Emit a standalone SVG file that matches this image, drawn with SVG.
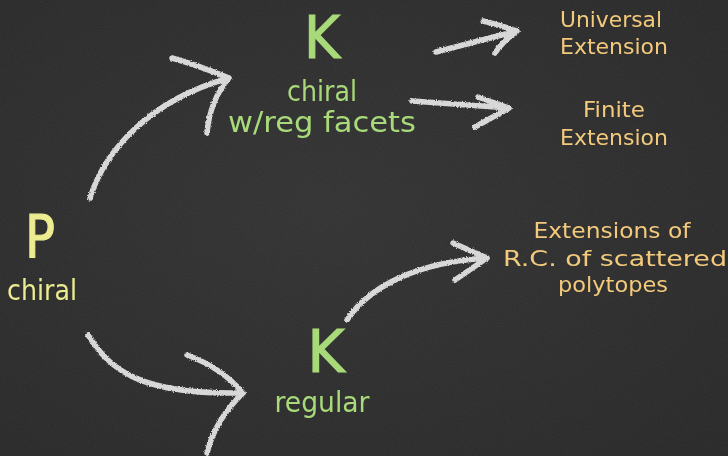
<svg xmlns="http://www.w3.org/2000/svg" width="728" height="456" viewBox="0 0 728 456">
<defs>
<filter id="bgnoise" x="0" y="0" width="100%" height="100%">
<feTurbulence type="fractalNoise" baseFrequency="0.9" numOctaves="2" seed="3" result="n"/>
<feColorMatrix in="n" type="matrix" values="0 0 0 0 1  0 0 0 0 1  0 0 0 0 1  0 0 0 0.06 0"/>
</filter>
<radialGradient id="bg" cx="0.45" cy="0.45" r="0.8">
<stop offset="0" stop-color="#313131"/>
<stop offset="1" stop-color="#262626"/>
</radialGradient>
<filter id="chalk" x="-10%" y="-10%" width="120%" height="120%">
<feTurbulence type="fractalNoise" baseFrequency="0.8" numOctaves="2" seed="7" result="t"/>
<feDisplacementMap in="SourceGraphic" in2="t" scale="3" xChannelSelector="R" yChannelSelector="G" result="d"/>
<feGaussianBlur in="d" stdDeviation="0.4"/>
</filter>
<style>
.arrow{fill:none;stroke:#e6e6e6;stroke-width:5.5;stroke-linecap:round;stroke-linejoin:round;opacity:0.92}
.t{font-family:"DejaVu Sans",sans-serif;text-anchor:middle}
.g{fill:#a8da7a}
.y{fill:#f3ca7c}
.p{fill:#ecec90}
.big{font-size:58px;stroke-width:1.2px}
.g.big{stroke:#a8da7a}
.p.big{stroke:#ecec90}
.mid{font-size:28px}
.sm{font-size:22px}
.xs{font-size:21px}
</style>
</defs>
<rect width="728" height="456" fill="url(#bg)"/>
<rect width="728" height="456" filter="url(#bgnoise)"/>
<g id="connectors" filter="url(#chalk)">
<path class="arrow" d="M90,198 C105,150 150,100 229,78 M172,58 Q200,66 229,78 M229,78 Q210,100 207,133"/>
<path class="arrow" d="M436,52 L517,31 M483,21 Q500,25 517,31 M517,31 Q503,41 495,53"/>
<path class="arrow" d="M412,101 L509,108 M478,97 L509,108 M509,108 L475,127"/>
<path class="arrow" d="M347,320 C370,285 420,262 487,258 M453,243 L487,258 M487,258 L455,280"/>
<path class="arrow" d="M88,335 C110,370 140,395 243,393 M187,355 Q222,368 243,393 M243,393 Q215,420 207,453"/>
</g>
<g id="nodeP">
<text class="t p big" x="40" y="257" textLength="30" lengthAdjust="spacingAndGlyphs">P</text>
<text class="t p mid" x="42" y="300" textLength="70" lengthAdjust="spacingAndGlyphs">chiral</text>
</g>
<g id="nodeKchiral">
<text class="t g big" x="322" y="58" textLength="36" lengthAdjust="spacingAndGlyphs">K</text>
<text class="t g mid" x="322" y="101" textLength="70" lengthAdjust="spacingAndGlyphs">chiral</text>
<text class="t g mid" x="322" y="132" textLength="188" lengthAdjust="spacingAndGlyphs">w/reg facets</text>
</g>
<g id="nodeUniversal">
<text class="t y sm" x="611" y="27" textLength="102" lengthAdjust="spacingAndGlyphs">Universal</text>
<text class="t y sm" x="614" y="54" textLength="108" lengthAdjust="spacingAndGlyphs">Extension</text>
</g>
<g id="nodeFinite">
<text class="t y sm" x="614" y="117" textLength="62" lengthAdjust="spacingAndGlyphs">Finite</text>
<text class="t y sm" x="614" y="145" textLength="108" lengthAdjust="spacingAndGlyphs">Extension</text>
</g>
<g id="nodeScattered">
<text class="t y xs" x="612" y="238" textLength="157" lengthAdjust="spacingAndGlyphs">Extensions of</text>
<text class="t y xs" x="615" y="266" textLength="224" lengthAdjust="spacingAndGlyphs">R.C. of scattered</text>
<text class="t y xs" x="613" y="292" textLength="110" lengthAdjust="spacingAndGlyphs">polytopes</text>
</g>
<g id="nodeKregular">
<text class="t g big" x="326" y="372" textLength="37" lengthAdjust="spacingAndGlyphs">K</text>
<text class="t g mid" x="322" y="412" textLength="95" lengthAdjust="spacingAndGlyphs">regular</text>
</g>
</svg>
